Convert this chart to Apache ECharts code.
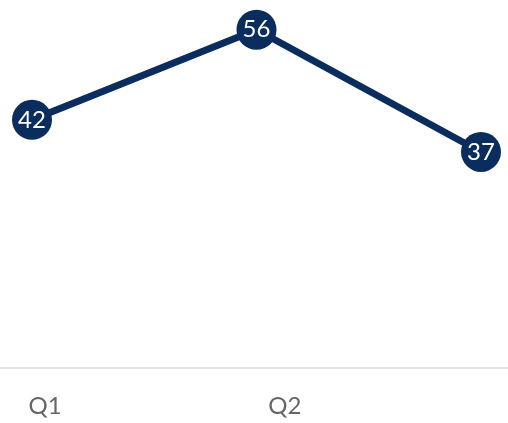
<!DOCTYPE html>
<html>
<head>
<meta charset="utf-8">
<script src="https://cdn.jsdelivr.net/npm/echarts@6/dist/echarts.min.js"></script>
<style>html,body{margin:0;padding:0;background:#fff}#c{width:508px;height:423px}</style>
</head>
<body>
<div id="c"></div>
<script>
const categories = ['Q1', 'Q2', 'Q3'];
const values = [42, 56, 37];
const labelPositions = [0, 1, 2];

const chart = echarts.init(document.getElementById('c'));
chart.setOption({
  animation: false,
  grid: [
    { left: 32, right: 27, top: 4, bottom: 33 },
    { left: 0, right: 0, top: 4, bottom: 55 }
  ],
  xAxis: [
    { type: 'category', gridIndex: 0, data: categories, boundaryGap: false, show: false },
    { type: 'value', gridIndex: 1, min: -0.1875, max: 1.93,
      axisLine: { show: true, lineStyle: { color: '#d9d9d9', width: 1.5 } },
      axisTick: { show: false },
      splitLine: { show: false },
      axisLabel: { margin: 26, fontSize: 24, color: '#666666', fontFamily: 'Lato',
        customValues: labelPositions,
        formatter: function (v) { return categories[Math.round(v)] || ''; } } }
  ],
  yAxis: [
    { type: 'value', gridIndex: 0, min: 0, max: 60, show: false },
    { type: 'value', gridIndex: 1, show: false }
  ],
  series: [{
    type: 'line',
    xAxisIndex: 0, yAxisIndex: 0,
    data: values,
    symbol: 'circle',
    symbolSize: 40,
    lineStyle: { color: '#0b2d5e', width: 7 },
    itemStyle: { color: '#0b2d5e' },
    label: { show: true, position: 'inside', color: '#ffffff', fontSize: 24, fontFamily: 'Lato' }
  }]
});
</script>
</body>
</html>
